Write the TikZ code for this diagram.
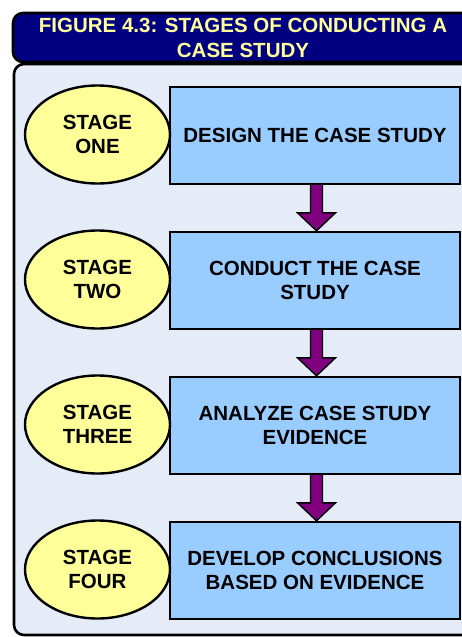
\documentclass[tikz,border=0pt]{standalone}
\usepackage{fontspec}
\setmainfont{Liberation Sans}
\usetikzlibrary{calc,shapes.geometric}
\definecolor{navy}{HTML}{000080}
\definecolor{titleyellow}{HTML}{FFFF99}
\definecolor{panelbg}{HTML}{E6ECF7}
\definecolor{boxblue}{HTML}{99CCFF}
\definecolor{ellyellow}{HTML}{FFFF99}
\definecolor{arrowpurple}{HTML}{800080}
\tikzset{
  frame/.style={draw=black, line width=2.6pt, rounded corners=10pt},
  titletext/.style={text=titleyellow, font=\bfseries\fontsize{20.5}{25}\selectfont, align=center, inner sep=0pt},
  stagebox/.style={draw=black, line width=2.4pt, fill=boxblue, minimum width=290pt, minimum height=97pt, inner sep=0pt, align=center, font=\bfseries\fontsize{20.5}{24}\selectfont},
  stageell/.style={ellipse, draw=black, line width=2.4pt, fill=ellyellow, minimum width=145pt, minimum height=98pt, inner sep=0pt, align=center, font=\bfseries\fontsize{20.5}{24}\selectfont},
  flowarrow/.style={draw=black, line width=1.4pt, fill=arrowpurple, line join=miter}
}
\newcommand{\flowarr}[2]{%
  \path (#1.south) ++(1.5,0) coordinate (fs);
  \path (#2.north) ++(1.5,0) coordinate (fe);
  \filldraw[flowarrow] ($(fs)+(-6,0)$) -- ($(fe)+(-6,-18)$) -- ($(fe)+(-19,-18)$) -- (fe) -- ($(fe)+(19,-18)$) -- ($(fe)+(6,-18)$) -- ($(fs)+(6,0)$);
}
\begin{document}
\begin{tikzpicture}[x=1pt,y=-1pt]
\useasboundingbox (0,0) rectangle (462,637);
\clip (0,0) rectangle (462,637);
\fill[white] (0,0) rectangle (462,637);
\draw[frame, fill=navy] (13,13) rectangle (490,62);
\node[titletext] (title) at (243,37.5) {FIGURE 4.3: STAGES OF CONDUCTING A\\CASE STUDY};
\draw[frame, fill=panelbg] (14,64) rectangle (490,635);

\node[stagebox] (b1) at (315,135.5) {DESIGN THE CASE STUDY};
\node[stagebox] (b2) at (315,280.5) {CONDUCT THE CASE\\STUDY};
\node[stagebox] (b3) at (315,425.5) {ANALYZE CASE STUDY\\EVIDENCE};
\node[stagebox] (b4) at (315,570.5) {DEVELOP CONCLUSIONS\\BASED ON EVIDENCE};

\node[stageell] (e1) at (97.5,134.5) {STAGE\\ONE};
\node[stageell] (e2) at (97.5,279.5) {STAGE\\TWO};
\node[stageell] (e3) at (97.5,424.5) {STAGE\\THREE};
\node[stageell] (e4) at (97.5,569.5) {STAGE\\FOUR};

\flowarr{b1}{b2}
\flowarr{b2}{b3}
\flowarr{b3}{b4}
\end{tikzpicture}
\end{document}
